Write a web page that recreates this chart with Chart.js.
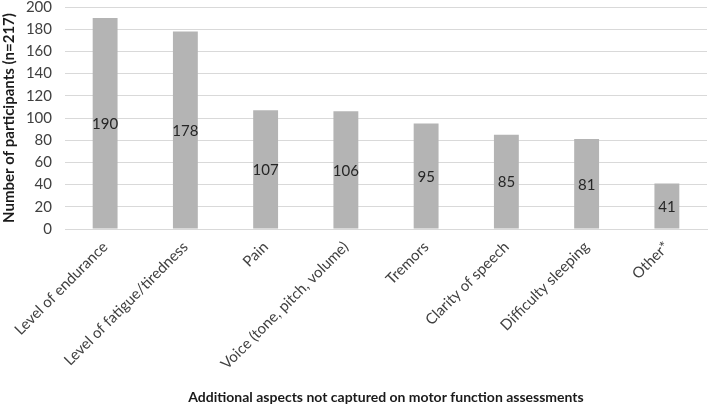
<!DOCTYPE html>
<html>
<head>
<meta charset="utf-8">
<script src="https://cdn.jsdelivr.net/npm/chart.js@4"></script>
<style>
html,body{margin:0;padding:0;background:#fff;}
#wrap{width:709px;height:414px;}
</style>
</head>
<body>
<div id="wrap"><canvas id="c" width="709" height="414"></canvas></div>
<script>
const categories = ["Level of endurance","Level of fatigue/tiredness","Pain","Voice (tone, pitch, volume)","Tremors","Clarity of speech","Difficulty sleeping","Other*"];
const values = [190,178,107,106,95,85,81,41];
const yTicks = [0,20,40,60,80,100,120,140,160,180,200];
const yTitle = "Number of participants (n=217)";
const xTitle = "Additional aspects not captured on motor function assessments";

const FONT = "Lato, 'Open Sans', sans-serif";

const labelPlugin = {
  id: 'centerLabels',
  afterDatasetsDraw(chart) {
    const ctx = chart.ctx;
    const meta = chart.getDatasetMeta(0);
    ctx.save();
    ctx.font = "15px " + FONT;
    ctx.fillStyle = "#262626";
    ctx.textAlign = "center";
    ctx.textBaseline = "middle";
    meta.data.forEach((bar, i) => {
      const p = bar.getProps(['x','y','base'], true);
      ctx.fillText(String(values[i]), p.x, (p.y + p.base) / 2 + 1);
    });
    ctx.restore();
  }
};

new Chart(document.getElementById('c'), {
  type: 'bar',
  data: {
    labels: categories,
    datasets: [{
      data: values,
      backgroundColor: '#b4b4b4',
      borderWidth: 0,
      categoryPercentage: 0.62,
      barPercentage: 0.5
    }]
  },
  options: {
    responsive: false,
    animation: false,
    devicePixelRatio: 1,
    layout: { padding: { top: 0, right: 2, left: 0, bottom: 8 } },
    plugins: { legend: { display: false }, tooltip: { enabled: false } },
    scales: {
      y: {
        min: 0, max: 200,
        afterBuildTicks(axis) { axis.ticks = yTicks.map(v => ({ value: v })); },
        afterFit(axis) { axis.width = 65; axis.paddingTop = 7; },
        grid: { color: '#d9d9d9', lineWidth: 1, drawTicks: false },
        border: { display: false },
        ticks: { color: '#404040', font: { size: 15, family: FONT }, padding: 13, autoSkip: false },
        title: { display: true, text: yTitle, color: '#1a1a1a', font: { size: 15, weight: 'bold', family: FONT }, padding: { top: 0, bottom: 2 } }
      },
      x: {
        afterFit(axis) { axis.height = 414 - 229 - 8; axis.paddingLeft = 0; axis.paddingRight = 0; },
        grid: { display: false, drawTicks: false },
        border: { display: true, color: '#d9d9d9' },
        ticks: { color: '#404040', font: { size: 15, family: FONT }, minRotation: 45, maxRotation: 45, padding: 9 },
        title: { display: true, text: xTitle, color: '#1a1a1a', font: { size: 14, weight: 'bold', family: FONT }, padding: { top: 10, bottom: 0 } }
      }
    }
  },
  plugins: [labelPlugin]
});
</script>
</body>
</html>
